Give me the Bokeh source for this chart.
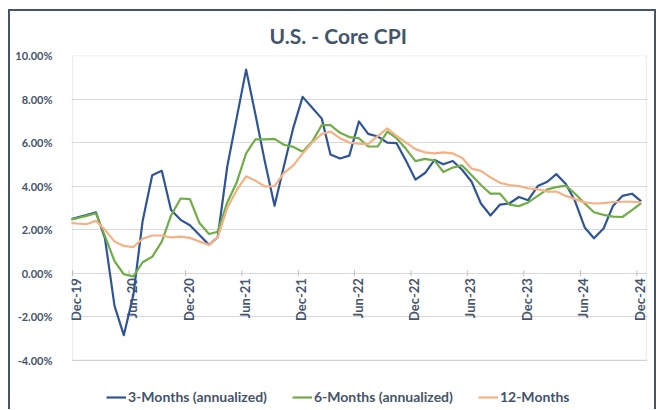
import math
import pandas as pd
from bokeh.plotting import figure
from bokeh.models import (FixedTicker, PrintfTickFormatter, Legend, LegendItem, Range1d,
                          BoxAnnotation)
from bokeh.core.properties import value
from bokeh.embed import file_html
from bokeh.resources import INLINE

# ---- data (monthly, % ) -------------------------------------------------
months = ["Nov-19", "Dec-19",
          "Jan-20", "Feb-20", "Mar-20", "Apr-20", "May-20", "Jun-20",
          "Jul-20", "Aug-20", "Sep-20", "Oct-20", "Nov-20", "Dec-20",
          "Jan-21", "Feb-21", "Mar-21", "Apr-21", "May-21", "Jun-21",
          "Jul-21", "Aug-21", "Sep-21", "Oct-21", "Nov-21", "Dec-21",
          "Jan-22", "Feb-22", "Mar-22", "Apr-22", "May-22", "Jun-22",
          "Jul-22", "Aug-22", "Sep-22", "Oct-22", "Nov-22", "Dec-22",
          "Jan-23", "Feb-23", "Mar-23", "Apr-23", "May-23", "Jun-23",
          "Jul-23", "Aug-23", "Sep-23", "Oct-23", "Nov-23", "Dec-23",
          "Jan-24", "Feb-24", "Mar-24", "Apr-24", "May-24", "Jun-24",
          "Jul-24", "Aug-24", "Sep-24", "Oct-24", "Nov-24", "Dec-24"]

three_month = [2.45, 2.55,
               2.67, 2.79, 1.60, -1.50, -2.85, -1.00, 2.40, 4.50, 4.70, 2.90, 2.45, 2.20,
               1.75, 1.30, 1.65, 4.90, 7.10, 9.35, 7.30, 5.10, 3.10, 4.90, 6.70, 8.10,
               7.60, 7.10, 5.45, 5.27, 5.40, 6.97, 6.40, 6.28, 6.00, 5.97, 5.15, 4.30,
               4.60, 5.20, 5.00, 5.15, 4.75, 4.20, 3.20, 2.65, 3.15, 3.20, 3.50, 3.35,
               4.00, 4.20, 4.55, 4.10, 3.30, 2.10, 1.60, 2.05, 3.10, 3.55, 3.65, 3.30]

six_month = [2.45, 2.52,
             2.63, 2.75, 1.70, 0.55, -0.05, -0.15, 0.50, 0.75, 1.45, 2.65, 3.43, 3.40,
             2.30, 1.80, 1.90, 3.25, 4.15, 5.50, 6.15, 6.15, 6.17, 5.90, 5.80, 5.58,
             6.05, 6.80, 6.80, 6.45, 6.25, 6.20, 5.82, 5.82, 6.50, 6.20, 5.70, 5.15,
             5.25, 5.17, 4.65, 4.85, 4.95, 4.50, 4.05, 3.65, 3.65, 3.15, 3.08, 3.25,
             3.55, 3.85, 3.95, 4.02, 3.65, 3.20, 2.80, 2.68, 2.60, 2.58, 2.90, 3.22]

twelve_month = [2.33, 2.28,
                2.25, 2.40, 2.00, 1.45, 1.25, 1.20, 1.58, 1.73, 1.73, 1.64, 1.68, 1.62,
                1.45, 1.30, 1.65, 3.00, 3.80, 4.45, 4.25, 3.98, 4.00, 4.60, 4.95, 5.50,
                6.00, 6.40, 6.50, 6.20, 6.00, 5.95, 5.93, 6.30, 6.65, 6.30, 6.00, 5.70,
                5.55, 5.50, 5.55, 5.50, 5.30, 4.80, 4.70, 4.40, 4.15, 4.05, 4.00, 3.90,
                3.85, 3.75, 3.75, 3.55, 3.40, 3.25, 3.20, 3.22, 3.27, 3.28, 3.28, 3.25]

tick_labels = ["Dec-19", "Jun-20", "Dec-20", "Jun-21", "Dec-21", "Jun-22",
               "Dec-22", "Jun-23", "Dec-23", "Jun-24", "Dec-24"]
y_ticks = [-4, -2, 0, 2, 4, 6, 8, 10]

series_names = ["3-Months (annualized)", "6-Months (annualized)", "12-Months"]
series_colors = ["#2F5597", "#70AD47", "#F4B183"]

# ---- layout constants ---------------------------------------------------
TXT = "#44546A"
FONT = "Lato"
W, H = 648, 400            # element size (border-box)
BORDER = 2
TOP, LEFT, RIGHT, BOTTOM = 44, 61, 11, 0   # min borders around the frame
PLOT_W, PLOT_H = 570, 303  # plot-area size in px (frame is taller to host legend)

# monthly observations plotted mid-month on a date axis
dates = pd.to_datetime(months, format="%b-%y") + pd.Timedelta(days=14)
tick_dates = pd.to_datetime(tick_labels, format="%b-%y")
x_start = tick_dates[0]
x_end = tick_dates[-1] + pd.DateOffset(months=1)

frame_w = W - 2 * BORDER - LEFT - RIGHT
frame_h = H - BORDER - TOP - BOTTOM
x_pad = (x_end - x_start) * ((frame_w - PLOT_W) / 2 / PLOT_W)
px_per_pct = PLOT_H / (y_ticks[-1] - y_ticks[0])
y_lo = y_ticks[-1] - frame_h / px_per_pct

p = figure(width=W, height=H, x_axis_type=None,
           x_range=Range1d(x_start - x_pad, x_end + x_pad),
           y_range=Range1d(y_lo, y_ticks[-1]),
           output_backend="svg", toolbar_location=None,
           min_border_left=LEFT, min_border_right=RIGHT, min_border_top=TOP,
           min_border_bottom=BOTTOM)
p.margin = (9, 0, 0, 8)
p.styles = {"border-left": f"{BORDER}px solid {TXT}", "border-top": f"{BORDER}px solid {TXT}",
            "border-right": f"{BORDER}px solid {TXT}"}

p.background_fill_color = "white"
p.border_fill_color = "white"
p.outline_line_color = None

# plot-area border
p.add_layout(BoxAnnotation(left=x_start.to_pydatetime(), right=x_end.to_pydatetime(),
                           bottom=y_ticks[0], top=y_ticks[-1],
                           fill_color=None, fill_alpha=0,
                           line_color="#BCC3CF", line_width=1.5, level="underlay"))

# title
p.title.text = "U.S. - Core CPI"
p.title.align = "left"
p.title.offset = 198
p.title.text_font = FONT
p.title.text_font_size = "21px"
p.title.text_font_style = "bold"
p.title.text_color = TXT
p.title.standoff = 16

# y axis
ya = p.yaxis[0]
ya.ticker = FixedTicker(ticks=y_ticks)
ya.formatter = PrintfTickFormatter(format="%.2f%%")
ya.axis_line_color = None
ya.major_tick_line_color = None
ya.minor_tick_line_color = None
ya.major_label_text_font = FONT
ya.major_label_text_font_size = "11px"
ya.major_label_text_font_style = "bold"
ya.major_label_text_color = TXT
ya.major_label_standoff = 13
p.ygrid.ticker = FixedTicker(ticks=y_ticks)
p.ygrid.grid_line_color = "#D9D9D9"
p.ygrid.grid_line_width = 1

# category axis crossing at 0%: tick marks + rotated labels
zeros = [0] * len(tick_labels)
p.scatter(tick_dates, zeros, marker="dash", angle=math.pi / 2, size=6,
          line_color="#BFBFBF", line_width=1)
p.text(tick_dates, zeros, text=tick_labels, angle=math.pi / 2,
       text_align="right", text_baseline="middle", x_offset=3, y_offset=5,
       text_font=value(FONT), text_font_size="13px", text_font_style="bold",
       text_color=TXT)

# lines
renderers = []
for vals, col in zip([three_month, six_month, twelve_month], series_colors):
    r = p.line(dates, vals, line_color=col, line_width=2.2, line_join="round")
    renderers.append(r)

legend = Legend(items=[LegendItem(label=n, renderers=[r]) for n, r in zip(series_names, renderers)],
                orientation="horizontal", location=(35, 6))
legend.label_text_font = FONT
legend.label_text_font_size = "14px"
legend.label_text_font_style = "bold"
legend.label_text_color = TXT
legend.glyph_width = 20
legend.glyph_height = 16
legend.label_standoff = 2
legend.spacing = 25
legend.padding = 0
legend.margin = 0
legend.background_fill_alpha = 0
legend.border_line_color = None
p.add_layout(legend)

open("out.html", "w").write(file_html(p, INLINE))
